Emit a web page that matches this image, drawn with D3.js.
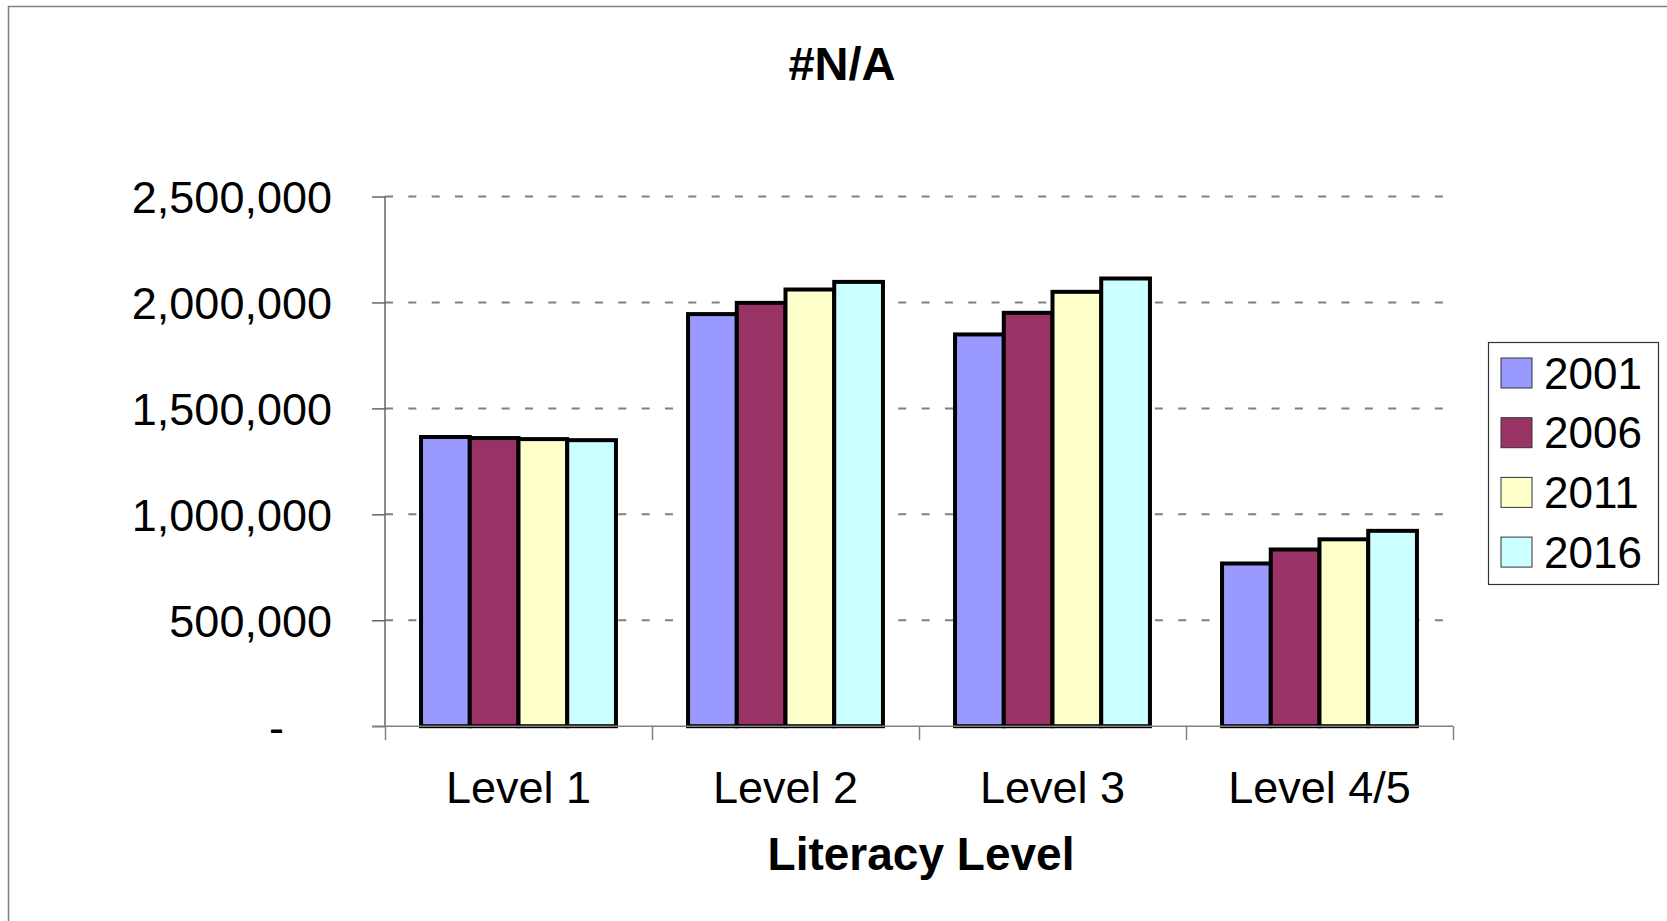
<!DOCTYPE html>
<html>
<head>
<meta charset="utf-8">
<script src="https://cdn.jsdelivr.net/npm/d3@7"></script>
<style>
  html, body { margin: 0; padding: 0; background: #fff; }
  svg { display: block; }
  text { font-family: "Liberation Sans", Arial, sans-serif; fill: #000; }
</style>
</head>
<body>
<svg id="chart" width="1667" height="921"></svg>
<script>
// Literacy level counts by census year
const categories = ["Level 1", "Level 2", "Level 3", "Level 4/5"];
const years = ["2001", "2006", "2011", "2016"];
const values2001 = [1365000, 1945000, 1849000, 768000];
const values2006 = [1360000, 1998000, 1951000, 834000];
const values2011 = [1355000, 2061000, 2050000, 882000];
const values2016 = [1350000, 2097000, 2113000, 922000];
const yTicks = [0, 500000, 1000000, 1500000, 2000000, 2500000];
const colors = ["#9999FF", "#993366", "#FFFFCC", "#CCFFFF"];
const title = "#N/A";
const xTitle = "Literacy Level";

const series = [values2001, values2006, values2011, values2016];
const rows = categories.map((c, i) => ({
  category: c,
  bars: years.map((yr, j) => ({ year: yr, value: series[j][i], color: colors[j] }))
}));

const svg = d3.select("#chart");

// outer chart frame
svg.append("rect")
  .attr("x", 8.5).attr("y", 6.5)
  .attr("width", 1700).attr("height", 1000)
  .attr("fill", "#fff").attr("stroke", "#808080").attr("stroke-width", 1.5);

const plot = { left: 385, right: 1453, top: 196.5, bottom: 726.2 };

const y = d3.scaleLinear().domain([0, 2500000]).range([plot.bottom, plot.top]);
const x0 = d3.scaleBand().domain(categories).range([plot.left, plot.right])
  .paddingInner(0.27).paddingOuter(0.135);
const x1 = d3.scaleBand().domain(years).range([0, x0.bandwidth()]);

// dashed gridlines
svg.append("g").selectAll("line")
  .data(yTicks.filter(v => v > 0))
  .join("line")
  .attr("x1", plot.left).attr("x2", plot.right + 2)
  .attr("y1", d => y(d)).attr("y2", d => y(d))
  .attr("stroke", "#808080").attr("stroke-width", 2)
  .attr("stroke-dasharray", "8 15.33");

// y axis
const fmt = d3.format(",");
const yAxis = svg.append("g")
  .attr("transform", `translate(${plot.left},0)`)
  .call(d3.axisLeft(y).tickValues(yTicks).tickSize(13).tickPadding(40)
    .tickFormat(d => d === 0 ? "-" : fmt(d)));
yAxis.select(".domain").attr("stroke", "#666").attr("stroke-width", 1.5)
  .attr("d", `M0,${plot.top}V${plot.bottom}`);
yAxis.selectAll(".tick line").attr("stroke", "#666").attr("stroke-width", 1.5);
yAxis.selectAll(".tick text")
  .style("font-size", "45px")
  .attr("dy", "0.36em")
  .attr("x", d => d === 0 ? -101 : -53);

// bars
const groups = svg.append("g").selectAll("g")
  .data(rows)
  .join("g")
  .attr("transform", d => `translate(${x0(d.category)},0)`);
groups.selectAll("rect")
  .data(d => d.bars)
  .join("rect")
  .attr("x", d => x1(d.year))
  .attr("y", d => y(d.value))
  .attr("width", x1.bandwidth())
  .attr("height", d => y(0) - y(d.value))
  .attr("fill", d => d.color)
  .attr("stroke", "#000").attr("stroke-width", 4);

// x axis with boundary ticks
const xb = d3.scaleLinear().domain([0, categories.length]).range([plot.left, plot.right]);
const xAxis = svg.append("g")
  .attr("transform", `translate(0,${plot.bottom})`)
  .call(d3.axisBottom(xb).tickValues(d3.range(categories.length + 1)).tickSize(14).tickFormat(""));
xAxis.select(".domain").attr("stroke", "#808080").attr("stroke-width", 1.5)
  .attr("d", `M${plot.left - 13},0H${plot.right}`);
xAxis.selectAll(".tick line").attr("stroke", "#808080").attr("stroke-width", 1.5);

// category labels
svg.append("g").selectAll("text")
  .data(categories)
  .join("text")
  .attr("x", d => x0(d) + x0.bandwidth() / 2)
  .attr("y", 803)
  .attr("text-anchor", "middle")
  .style("font-size", "45px")
  .text(d => d);

// titles
svg.append("text")
  .attr("x", 842).attr("y", 80)
  .attr("text-anchor", "middle")
  .style("font-size", "47px").style("font-weight", "bold")
  .text(title);
svg.append("text")
  .attr("x", 921).attr("y", 870)
  .attr("text-anchor", "middle")
  .style("font-size", "46px").style("font-weight", "bold")
  .text(xTitle);

// legend
const legend = svg.append("g");
legend.append("rect")
  .attr("x", 1488.5).attr("y", 342.5)
  .attr("width", 170).attr("height", 242)
  .attr("fill", "#fff").attr("stroke", "#333").attr("stroke-width", 1.2);
const items = legend.selectAll("g.item")
  .data(years)
  .join("g").attr("class", "item")
  .attr("transform", (d, i) => `translate(0,${i * 59.7})`);
items.append("rect")
  .attr("x", 1501).attr("y", 358)
  .attr("width", 31).attr("height", 30)
  .attr("fill", (d, i) => colors[i])
  .attr("stroke", "#333").attr("stroke-width", 1);
items.append("text")
  .attr("x", 1544).attr("y", 388.5)
  .style("font-size", "44px")
  .text(d => d);
</script>
</body>
</html>
